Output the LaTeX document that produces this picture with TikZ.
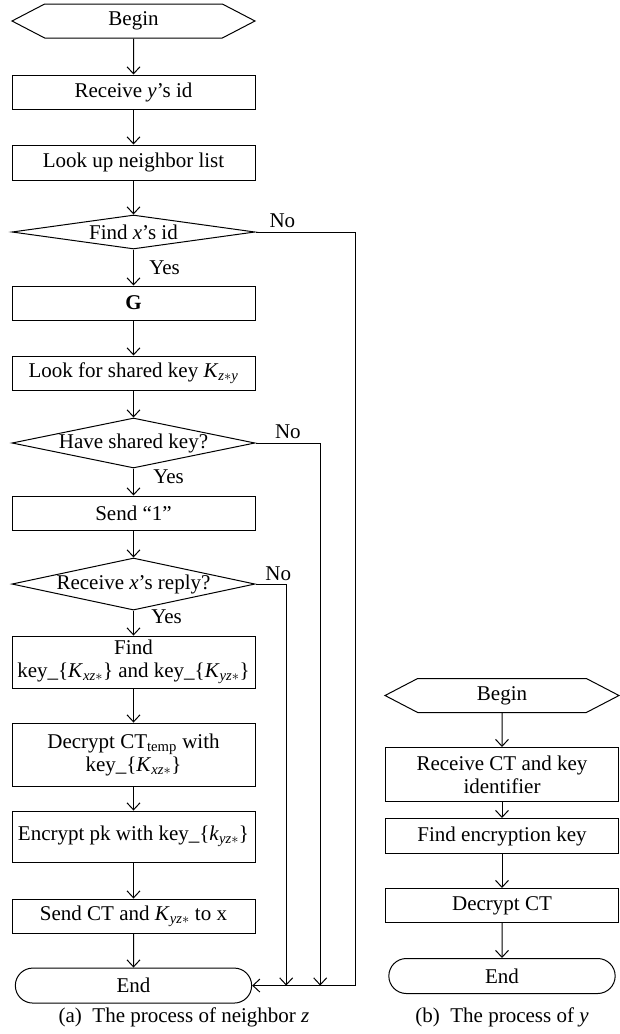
\documentclass[tikz,border=0pt]{standalone}
\usepackage{fontspec}
\setmainfont{Liberation Serif}
\usetikzlibrary{shapes,arrows.meta,positioning}

\newcommand{\subk}[2]{\textit{#1}\textsubscript{\textit{#2}$\ast$}}

\begin{document}
\begin{tikzpicture}[
    x=1pt, y=-1pt,
    line width=1pt,
    every node/.style={font=\fontsize{21}{23}\selectfont},
    terminal/.style={signal, signal to=west and east, signal pointer angle=55, draw, minimum height=34pt, inner sep=0pt},
    process/.style={rectangle, draw, minimum height=34pt, inner sep=2pt, align=center},
    decision/.style={diamond, draw, inner sep=0pt},
    stop/.style={rounded rectangle, draw, minimum height=35pt},
    arrow/.style={-{Straight Barb[length=7pt,width=13pt]}}
]
    \useasboundingbox (0,0) rectangle (619,1034);

    % Process of neighbor z
    \begin{scope}[minimum width=243pt]
    \node[terminal] (bgn) at (133.5,21) {Begin};
    \node[process, below=36pt of bgn] (rcv) {Receive \textit{y}'s id};
    \node[process, below=35pt of rcv, minimum height=35pt] (look) {Look up neighbor list};
    \node[decision, below=34pt of look, minimum height=34pt, aspect=7.1] (find) {Find \textit{x}'s id};
    \node[process, below=36pt of find] (g) {\textbf{G}};
    \node[process, below=35pt of g] (lookk) {Look for shared key \textit{K}\textsubscript{\textit{z}$\ast$\textit{y}}};
    \node[decision, below=27pt of lookk, minimum height=50pt, aspect=4.86] (have) {Have shared key?};
    \node[process, below=27pt of have] (send1) {Send ``1''};
    \node[decision, below=27pt of send1, minimum height=52pt, aspect=4.67] (reply) {Receive \textit{x}'s reply?};
    \node[process, below=25pt of reply, minimum height=52pt] (findk) {Find\\key\_\{\subk{K}{xz}\} and key\_\{\subk{K}{yz}\}};
    \node[process, below=34pt of findk, minimum height=63pt] (decr) {Decrypt CT\textsubscript{temp} with\\key\_\{\subk{K}{xz}\}};
    \node[process, below=24pt of decr, minimum height=51pt] (encr) {Encrypt pk with key\_\{\subk{k}{yz}\}};
    \node[process, below=36pt of encr] (sendct) {Send CT and \subk{K}{yz} to x};
    \node[stop, below=34pt of sendct] (endz) {End};
    \end{scope}

    % Process of y
    \begin{scope}[minimum width=233pt]
    \node[terminal, minimum width=234pt] (bgnb) at (502,695.5) {Begin};
    \node[process, below=34pt of bgnb, minimum height=54pt] (rcvct) {Receive CT and key\\identifier};
    \node[process, below=16pt of rcvct, minimum height=35pt] (findek) {Find encryption key};
    \node[process, below=34pt of findek] (decct) {Decrypt CT};
    \node[stop, below=35pt of decct] (endy) {End};
    \end{scope}

    % Captions
    \node (capa) at (184,1017) {(a)\hspace{.5em}The process of neighbor \textit{z}};
    \node (capb) at (502,1017) {(b)\hspace{.5em}The process of \textit{y}};

    % Joins on the End line
    \path (endz.east) ++(103,0) coordinate (ja);
    \path (endz.east) ++(68,0) coordinate (jb);
    \path (endz.east) ++(34,0) coordinate (jc);

    % Edges
    \draw[arrow] (bgn) -- (rcv);
    \draw[arrow] (rcv) -- (look);
    \draw[arrow] (look) -- (find);
    \draw[arrow] (find) -- node[right, xshift=12pt] {Yes} (g);
    \draw[arrow] (g) -- (lookk);
    \draw[arrow] (lookk) -- (have);
    \draw[arrow] (have) -- node[right, xshift=16pt, pos=0.3] {Yes} (send1);
    \draw[arrow] (send1) -- (reply);
    \draw[arrow] (reply) -- node[right, xshift=14pt, pos=0.25] {Yes} (findk);
    \draw[arrow] (findk) -- (decr);
    \draw[arrow] (decr) -- (encr);
    \draw[arrow] (encr) -- (sendct);
    \draw[arrow] (sendct) -- (endz);

    \draw[arrow] (find.east) -- node[above, pos=0.27] {No} (find.east -| ja) -- (ja) -- (endz.east);
    \draw[arrow] (have.east) -- node[above, pos=0.5] {No} (have.east -| jb) -- (jb);
    \draw[arrow] (reply.east) -- node[above, pos=0.74] {No} (reply.east -| jc) -- (jc);

    \draw[arrow] (bgnb) -- (rcvct);
    \draw[arrow] (rcvct) -- (findek);
    \draw[arrow] (findek) -- (decct);
    \draw[arrow] (decct) -- (endy);
\end{tikzpicture}
\end{document}
